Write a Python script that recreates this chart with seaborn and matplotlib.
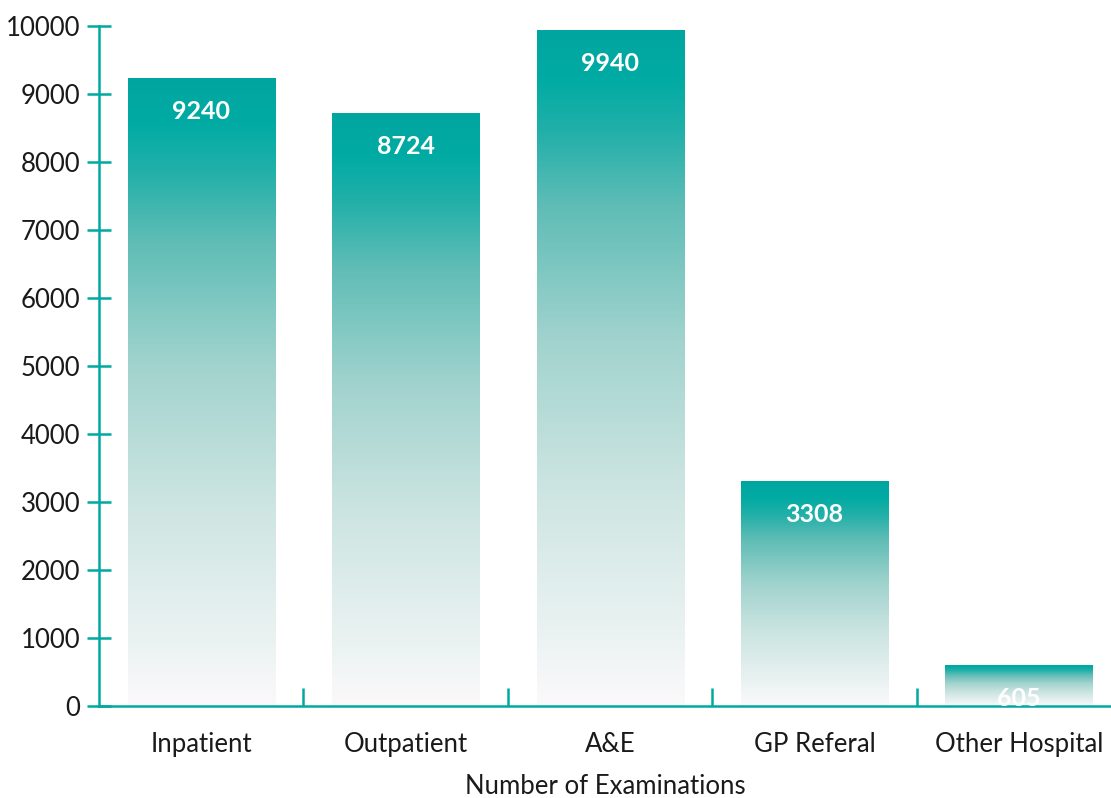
import numpy as np
import pandas as pd
import matplotlib
matplotlib.use("Agg")
import matplotlib.pyplot as plt
import seaborn as sns
from matplotlib.colors import LinearSegmentedColormap

categories = ["Inpatient", "Outpatient", "A&E", "GP Referal", "Other Hospital"]
values = [9240, 8724, 9940, 3308, 605]
y_ticks = [0, 1000, 2000, 3000, 4000, 5000, 6000, 7000, 8000, 9000, 10000]
x_title = "Number of Examinations"

sns.set_theme(style="white")
plt.rcParams['font.family'] = ['Lato', 'DejaVu Sans']

TEAL = "#00a9a0"
df = pd.DataFrame({"cat": categories, "val": values})

fig = plt.figure(figsize=(11.11, 7.98), dpi=100)
ax = fig.add_axes([99/1111, 1 - 706/798, 1 - 99/1111, 680/798])
sns.barplot(data=df, x="cat", y="val", ax=ax, width=0.72, color=TEAL)

cmap = LinearSegmentedColormap.from_list("g", [
    (0.0, "#fcf9fb"), (0.10, "#ebf3f2"), (0.32, "#cde5e2"), (0.54, "#a2d3ce"),
    (0.74, "#5fbdb6"), (0.85, "#22b0a9"), (0.93, "#00aba3"), (1.0, "#02a5a0")])
grad = np.linspace(0, 1, 256).reshape(-1, 1)
for p in ax.patches:
    x0, y0 = p.get_x(), p.get_y()
    w, h = p.get_width(), p.get_height()
    p.set_facecolor("none")
    p.set_edgecolor("none")
    im = ax.imshow(grad, cmap=cmap, origin="lower", aspect="auto",
                   extent=[x0, x0 + w, y0, y0 + h], zorder=2)
    im.set_clip_path(p)
    ax.annotate(f"{int(h)}", (x0 + w / 2, h), xytext=(0, -24), textcoords="offset points",
                ha="center", va="center", color="white", fontsize=18, fontweight="bold", zorder=3)

ax.set_xlim(-0.5, 4.45)
ax.set_ylim(0, 10000)
ax.set_yticks(y_ticks)
ax.set_yticklabels([str(t) for t in y_ticks])
ax.set_xticks(range(len(categories)))
ax.set_xticklabels(categories)
ax.set_xticks([0.5, 1.5, 2.5, 3.5], minor=True)
ax.set_xlabel(x_title, fontsize=18.5, color="#1a1a1a", labelpad=12)
ax.set_ylabel("")

for s in ["top", "right"]:
    ax.spines[s].set_visible(False)
for s in ["left", "bottom"]:
    ax.spines[s].set_color(TEAL)
    ax.spines[s].set_linewidth(1.8)

ax.tick_params(axis="y", which="major", direction="inout", length=17, width=1.8,
               color=TEAL, labelsize=18.5, labelcolor="#1a1a1a", pad=5, left=True)
ax.tick_params(axis="x", which="major", length=0, labelsize=18.5, labelcolor="#1a1a1a", pad=19)
ax.tick_params(axis="x", which="minor", direction="in", length=13, width=1.8,
               color=TEAL, bottom=True)

fig.savefig("out.png", dpi=100)
